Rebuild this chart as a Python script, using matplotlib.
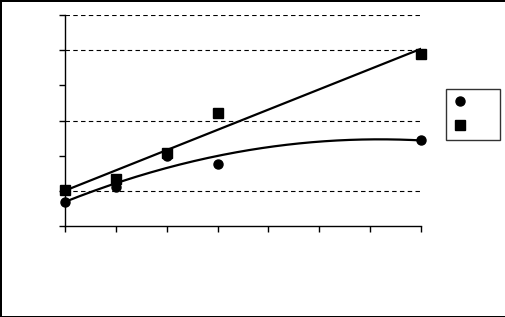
import numpy as np
import matplotlib
matplotlib.use("Agg")
import matplotlib.pyplot as plt
from matplotlib.lines import Line2D

# data
x_pts = [0, 1, 2, 3, 7]
circle_y = [0.67, 1.10, 2.00, 1.76, 2.45]
square_y = [1.02, 1.33, 2.07, 3.20, 4.90]
grid_levels = [1, 3, 5, 6]
x_ticks = list(range(8))
y_ticks = list(range(7))

fig = plt.figure(figsize=(5.06, 3.17), dpi=100)
fig.patch.set_edgecolor("black")
fig.patch.set_linewidth(2)
ax = fig.add_axes([65 / 506, 1 - 226 / 317, 356 / 506, 211 / 317])

for g in grid_levels:
    ax.axhline(g, color="black", lw=0.8, ls=(0, (4, 3)), zorder=1)

# trendlines (Excel style: linear for squares, 2nd order poly for circles)
xs = np.linspace(0, 7, 200)
lin = np.polyfit(x_pts, square_y, 1)
quad = np.polyfit(x_pts, circle_y, 2)
ax.plot(xs, np.polyval(lin, xs), color="black", lw=1.6, zorder=2)
ax.plot(xs, np.polyval(quad, xs), color="black", lw=1.6, zorder=2)

ax.plot(x_pts, circle_y, "o", color="black", ms=6.5, clip_on=False, zorder=3)
ax.plot(x_pts, square_y, "s", color="black", ms=6.5, clip_on=False, zorder=3)

ax.set_xlim(0, 7)
ax.set_ylim(0, 6)
ax.set_xticks(x_ticks)
ax.set_yticks(y_ticks)
ax.tick_params(labelbottom=False, labelleft=False, length=4, width=1, direction="out")
for s in ["top", "right"]:
    ax.spines[s].set_visible(False)
for s in ["left", "bottom"]:
    ax.spines[s].set_linewidth(1)

handles = [
    Line2D([], [], marker="o", ls="none", color="black", ms=6.5),
    Line2D([], [], marker="s", ls="none", color="black", ms=6.5),
]
leg = fig.legend(handles, ["       ", "       "], loc="upper left",
                 bbox_to_anchor=(446 / 506, 1 - 89 / 317), frameon=True,
                 fancybox=False, handlelength=1.0, handletextpad=0.2,
                 borderpad=0.75, labelspacing=1.26, fontsize=8, borderaxespad=0)
leg.get_frame().set_edgecolor("black")
leg.get_frame().set_linewidth(1)

plt.savefig("out.png", dpi=100)
plt.close(fig)
